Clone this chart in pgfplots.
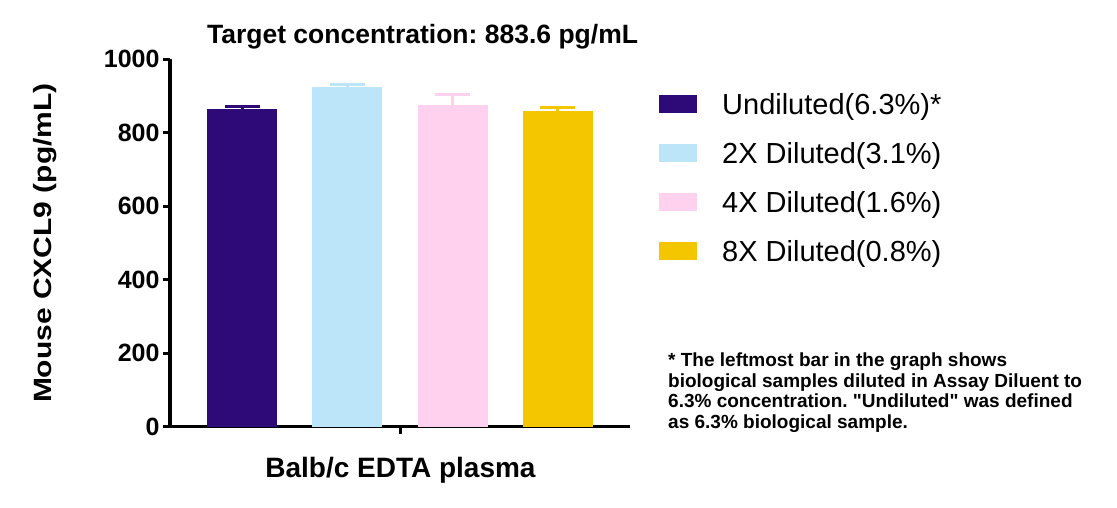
\documentclass[border=0pt]{standalone}
\usepackage{fontspec}
\setmainfont{Liberation Sans}[Ligatures=TeXOff]
\usepackage{pgfplots}
\pgfplotsset{compat=1.18}

\definecolor{undil}{HTML}{2D0A78}
\definecolor{dilA}{HTML}{BDE5FA}
\definecolor{dilB}{HTML}{FFD1EE}
\definecolor{dilC}{HTML}{F3C600}

\begin{document}
\frenchspacing
\begin{tikzpicture}[x=1pt,y=1pt]
\useasboundingbox (0,0) rectangle (1117,507);
\begin{axis}[
    at={(170pt,80.3pt)}, anchor=south west,
    scale only axis, width=460pt, height=367.4pt,
    xmin=-0.69, xmax=3.69, ymin=0, ymax=1000,
    axis lines=left,
    axis line style={-, line width=3.2pt},
    ybar, bar width=70pt,
    ytick={0,200,400,600,800,1000},
    xtick={1.5}, xticklabels={},
    tick align=outside, major tick length=7pt,
    tick style={line width=3pt, black},
    /pgf/number format/assume math mode=true,
    /pgf/number format/1000 sep={},
    yticklabel style={font=\bfseries\fontsize{25}{25}\selectfont},
    xlabel={Balb/c EDTA plasma},
    xlabel style={at={(axis description cs:0.501,-0.1396)}, anchor=base,
        font=\bfseries\fontsize{28}{28}\selectfont},
    ylabel={\scalebox{1.2}[1]{Mouse CXCL9 (pg/mL)}},
    ylabel style={at={(axis description cs:-0.272,0.5)}, anchor=center,
        font=\bfseries\fontsize{25}{25}\selectfont},
    title={Target concentration: 883.6 pg/mL},
    title style={at={(axis description cs:0.549,1.027)}, anchor=base,
        font=\bfseries\fontsize{26.5}{26.5}\selectfont},
    legend image code/.code={\fill[#1] (0pt,-5.6pt) rectangle (38pt,12.4pt);},
    legend cell align=left,
    legend style={at={(axis description cs:1.063,0.907)}, anchor=north west,
        draw=none, fill=none, inner sep=0pt, row sep=22pt,
        nodes={inner sep=0pt, text height=21pt, text depth=6pt},
        font=\fontsize{29}{29}\selectfont,
        /tikz/every odd column/.append style={column sep=25pt}},
]

\addplot[draw=none, fill=undil, bar shift=0pt,
    error bars/.cd, y dir=plus, y explicit,
    error bar style={line width=3pt, undil},
    error mark options={rotate=90, mark size=17.5pt, line width=3pt, undil}]
    coordinates {(0,865) +- (0,6)};

\addplot[draw=none, fill=dilA, bar shift=0pt,
    error bars/.cd, y dir=plus, y explicit,
    error bar style={line width=3pt, dilA},
    error mark options={rotate=90, mark size=17.5pt, line width=3pt, dilA}]
    coordinates {(1,925) +- (0,6)};

\addplot[draw=none, fill=dilB, bar shift=0pt,
    error bars/.cd, y dir=plus, y explicit,
    error bar style={line width=3pt, dilB},
    error mark options={rotate=90, mark size=17.5pt, line width=3pt, dilB}]
    coordinates {(2,876) +- (0,29)};

\addplot[draw=none, fill=dilC, bar shift=0pt,
    error bars/.cd, y dir=plus, y explicit,
    error bar style={line width=3pt, dilC},
    error mark options={rotate=90, mark size=17.5pt, line width=3pt, dilC}]
    coordinates {(3,860) +- (0,8)};

\legend{Undiluted(6.3\%)*, 2X Diluted(3.1\%), 4X Diluted(1.6\%), 8X Diluted(0.8\%)}
\end{axis}

\node[anchor=north west, inner sep=0pt, align=left,
    font=\bfseries\fontsize{19}{20.5}\selectfont] at (668,154)
    {* The leftmost bar in the graph shows\\
     biological samples diluted in Assay Diluent to\\
     6.3\% concentration. "Undiluted" was defined\\
     as 6.3\% biological sample.};
\end{tikzpicture}
\end{document}
